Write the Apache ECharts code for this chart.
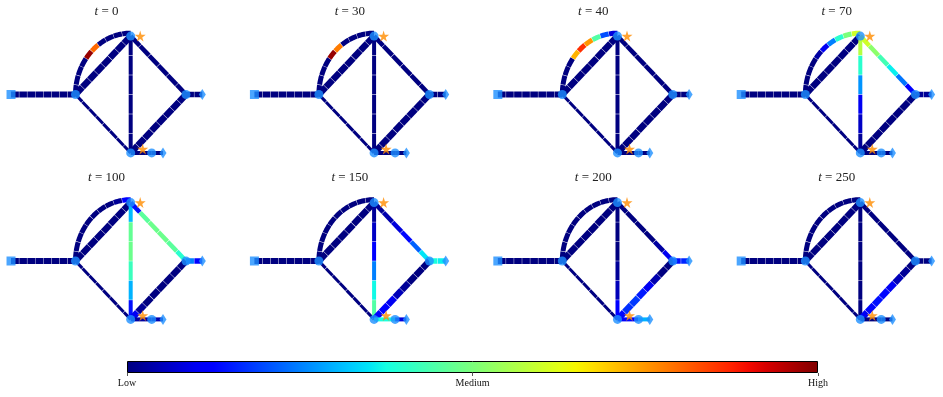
<!DOCTYPE html>
<html><head><meta charset="utf-8">
<script src="https://cdn.jsdelivr.net/npm/echarts@6/dist/echarts.min.js"></script>
<style>html,body{margin:0;padding:0;background:#fff}#c{width:943px;height:397px}</style>
</head><body><div id="c"></div><script>
// ---------------- data ----------------
const panelTimes = [0, 30, 40, 70, 100, 150, 200, 250];
const colorbarLabels = ['Low', 'Medium', 'High'];

// network layout (abstract units): source S, junctions A B C D, outlets
const nodeNames = ['S', 'A', 'B', 'C', 'D', 'Co', 'Dc', 'Dd'];
const nodeX = [-1.166, 0, 0.998, 1.998, 0.998, 2.293, 1.378, 1.582];
const nodeY = [0, 0, 1, 0, -1, 0, -1, -1];
const starNodesX = [1.17, 1.215];
const starNodesY = [1.0, -0.933];

// segment values (0 = Low, 1 = High), one row per panel
const sourceValues = [
  [0,0,0,0,0,0,0,0],[0,0,0,0,0,0,0,0],[0,0,0,0,0,0,0,0],[0,0,0,0,0,0,0,0],
  [0,0,0,0,0,0,0,0],[0,0,0,0,0,0,0,0],[0,0,0,0,0,0,0,0],[0,0,0,0,0,0,0,0]];
const arcValues = [
  [0,0,0,0,0.98,0.8,0,0,0,0],
  [0,0,0,0,0.98,0.78,0,0,0,0],
  [0,0,0,0,0.72,0.86,0.75,0.45,0.2,0.08],
  [0,0,0,0,0.03,0.1,0.25,0.4,0.5,0.6],
  [0,0,0,0,0,0,0,0,0.02,0.12],
  [0,0,0,0,0,0,0,0,0,0],
  [0,0,0,0,0,0,0,0,0,0],
  [0,0,0,0,0,0,0,0,0,0]];
const chordValues = [
  [0,0,0,0,0,0,0,0],[0,0,0,0,0,0,0,0],[0,0,0,0,0,0,0,0],[0,0,0,0,0,0,0,0],
  [0,0,0,0,0,0,0,0],[0,0,0,0,0,0,0,0],[0,0,0,0,0,0,0,0],[0,0,0,0,0,0,0,0]];
const lowerLeftValues = [
  [0,0,0,0,0,0,0,0],[0,0,0,0,0,0,0,0],[0,0,0,0,0,0,0,0],[0,0,0,0,0,0,0,0],
  [0,0,0,0,0,0,0,0],[0,0,0,0,0,0,0,0],[0,0,0,0,0,0,0,0],[0,0,0,0,0,0,0,0]];
const verticalValues = [
  [0,0,0,0,0,0],
  [0,0,0,0,0,0],
  [0,0,0,0,0,0],
  [0.57,0.4,0.27,0.1,0.06,0.02],
  [0.31,0.47,0.48,0.42,0.3,0.14],
  [0.02,0.06,0.12,0.25,0.37,0.45],
  [0,0,0,0.02,0.05,0.11],
  [0,0,0,0,0,0]];
const upperRightValues = [
  [0,0,0,0,0,0],
  [0,0,0,0,0,0],
  [0,0,0,0,0,0],
  [0.6,0.52,0.43,0.36,0.24,0.12],
  [0.14,0.46,0.48,0.48,0.46,0.4],
  [0.02,0.04,0.08,0.13,0.22,0.35],
  [0,0,0,0,0.03,0.1],
  [0,0,0,0,0,0]];
const lowerRightValues = [
  [0,0,0,0,0,0,0,0],
  [0,0,0,0,0,0,0,0],
  [0,0,0,0,0,0,0,0],
  [0,0,0,0,0,0,0,0],
  [0.1,0.02,0,0,0,0,0,0],
  [0.12,0.12,0.1,0.05,0.02,0,0,0],
  [0.13,0.17,0.18,0.15,0.1,0.04,0,0],
  [0.1,0.13,0.14,0.13,0.1,0.05,0.02,0]];
const outletCValues = [[0,0],[0,0],[0,0],[0.02,0.02],[0.25,0.12],[0.38,0.36],[0.14,0.16],[0,0]];
const outletD1Values = [[0],[0],[0],[0],[0.03],[0.38],[0.12],[0]];
const outletD2Values = [[0],[0],[0],[0],[0.04],[0.08],[0.3],[0]];

// ---------------- styles / topology ----------------
const edges = [
  { from: 'A', to: 'D', values: lowerLeftValues, width: 3 },
  { from: 'S', to: 'A', values: sourceValues, width: 6 },
  { from: 'A', to: 'B', values: arcValues, width: 5, arc: true },
  { from: 'A', to: 'B', values: chordValues, width: 6.5 },
  { from: 'B', to: 'D', values: verticalValues, width: 4 },
  { from: 'B', to: 'C', values: upperRightValues, width: 4.5 },
  { from: 'D', to: 'C', values: lowerRightValues, width: 6.5 },
  { from: 'C', to: 'Co', values: outletCValues, width: 5.5 },
  { from: 'D', to: 'Dc', values: outletD1Values, width: 4 },
  { from: 'Dc', to: 'Dd', values: outletD2Values, width: 4 }
];
const nodeStyle = {
  S: { symbol: 'rect', size: 9 },
  A: { symbol: 'circle', size: 9 }, B: { symbol: 'circle', size: 9 },
  C: { symbol: 'circle', size: 9 }, D: { symbol: 'circle', size: 9 },
  Co: { symbol: 'diamond', size: [7, 11] },
  Dc: { symbol: 'circle', size: 9 },
  Dd: { symbol: 'diamond', size: [7, 11] }
};
const NODE_COLOR = '#1e90ff', STAR_COLOR = '#ff8c00';
const STAR = 'path://M50,0 L61,35 L98,35 L68,57 L79,91 L50,70 L21,91 L32,57 L2,35 L39,35 Z';
const UX = 55.3, UY = 58.4;          // px per layout unit
const PANEL_DX = 243.4, PANEL_DY = 166.5;
const X_MIN = -1.3, X_MAX = 2.5, Y_MIN = -1.25, Y_MAX = 1.25;
const A_PX = 75.5, A_PY = 94.5;
const GAP = 0.2;  // px gap between segments

function interp(v, pts) {
  for (let i = 0; i < pts.length - 1; i++) {
    if (v <= pts[i + 1][0]) {
      const t = (v - pts[i][0]) / (pts[i + 1][0] - pts[i][0]);
      return pts[i][1] + t * (pts[i + 1][1] - pts[i][1]);
    }
  }
  return pts[pts.length - 1][1];
}
function jet(v) {
  v = Math.max(0, Math.min(1, v));
  const r = interp(v, [[0,0],[0.35,0],[0.66,1],[0.89,1],[1,0.5]]);
  const g = interp(v, [[0,0],[0.125,0],[0.375,1],[0.64,1],[0.91,0],[1,0]]);
  const b = interp(v, [[0,0.5],[0.11,1],[0.34,1],[0.65,0],[1,0]]);
  return 'rgb(' + Math.round(r * 255) + ',' + Math.round(g * 255) + ',' + Math.round(b * 255) + ')';
}
const pos = {};
nodeNames.forEach((n, i) => { pos[n] = [nodeX[i], nodeY[i]]; });

function edgeSegments(e, vals) {
  const a = pos[e.from], b = pos[e.to];
  const n = vals.length, out = [];
  if (e.arc) {
    const rx = b[0] - a[0], ry = 1.05 * (b[1] - a[1]);
    const lenPx = Math.PI / 2 * (rx * UX + ry * UY) / 2;
    const g = GAP / lenPx;
    for (let k = 0; k < n; k++) {
      const t0 = k / n + (k > 0 ? g : 0), t1 = (k + 1) / n - (k < n - 1 ? g : 0);
      const coords = [];
      for (let s = 0; s <= 6; s++) {
        const th = (t0 + (t1 - t0) * s / 6) * Math.PI / 2;
        coords.push([b[0] - rx * Math.cos(th), a[1] + ry * Math.sin(th)]);
      }
      out.push({ coords, lineStyle: { color: jet(vals[k]), width: e.width } });
    }
  } else {
    const dx = b[0] - a[0], dy = b[1] - a[1];
    const lenPx = Math.hypot(dx * UX, dy * UY);
    const g = GAP / lenPx;
    for (let k = 0; k < n; k++) {
      const t0 = k / n + (k > 0 ? g : 0), t1 = (k + 1) / n - (k < n - 1 ? g : 0);
      out.push({ coords: [[a[0] + dx * t0, a[1] + dy * t0], [a[0] + dx * t1, a[1] + dy * t1]],
                 lineStyle: { color: jet(vals[k]), width: e.width } });
    }
  }
  return out;
}

const grid = [], xAxis = [], yAxis = [], series = [], title = [];
panelTimes.forEach((tm, p) => {
  const col = p % 4, row = Math.floor(p / 4);
  const ox = col * PANEL_DX, oy = row * PANEL_DY;
  grid.push({ left: ox + A_PX + X_MIN * UX, top: oy + A_PY - Y_MAX * UY,
              width: (X_MAX - X_MIN) * UX, height: (Y_MAX - Y_MIN) * UY });
  xAxis.push({ type: 'value', gridIndex: p, min: X_MIN, max: X_MAX, show: false });
  yAxis.push({ type: 'value', gridIndex: p, min: Y_MIN, max: Y_MAX, show: false });
  title.push({
    text: '{i|t} = ' + tm, left: ox + 106.5, top: oy + 5, textAlign: 'center', padding: 0,
    textStyle: { fontFamily: 'Liberation Serif', fontSize: 13, fontWeight: 'normal', color: '#222',
      rich: { i: { fontFamily: 'Liberation Serif', fontStyle: 'italic', fontSize: 13, color: '#222' } } }
  });
  let lineData = [];
  edges.forEach(e => { lineData = lineData.concat(edgeSegments(e, e.values[p])); });
  series.push({ type: 'lines', coordinateSystem: 'cartesian2d', xAxisIndex: p, yAxisIndex: p,
    polyline: true, silent: true, z: 2, lineStyle: { cap: 'butt', join: 'round', opacity: 1 }, data: lineData });
  series.push({ type: 'scatter', xAxisIndex: p, yAxisIndex: p, silent: true, z: 3,
    data: nodeNames.map((n, i) => ({ value: [nodeX[i], nodeY[i]], symbol: nodeStyle[n].symbol,
      symbolSize: nodeStyle[n].size, itemStyle: { color: NODE_COLOR } })) });
  series.push({ type: 'scatter', xAxisIndex: p, yAxisIndex: p, silent: true, z: 4,
    symbol: STAR, symbolSize: 11, itemStyle: { color: STAR_COLOR },
    data: starNodesX.map((x, i) => [x, starNodesY[i]]) });
});

// colorbar
const stops = [];
for (let i = 0; i <= 40; i++) stops.push({ offset: i / 40, color: jet(i / 40) });
grid.push({ left: 127, top: 361, width: 691, height: 12 });
xAxis.push({ type: 'value', gridIndex: 8, min: 0, max: 1, interval: 0.5,
  axisLine: { show: false }, splitLine: { show: false },
  axisTick: { show: true, length: 3, lineStyle: { color: '#555' } },
  axisLabel: { margin: 5, fontFamily: 'Liberation Serif', fontSize: 10, color: '#111',
    formatter: v => colorbarLabels[Math.round(v * 2)] } });
yAxis.push({ type: 'category', gridIndex: 8, data: ['scale'], show: false });
series.push({ type: 'bar', xAxisIndex: 8, yAxisIndex: 8, barWidth: '100%', silent: true,
  data: [1], itemStyle: { color: new echarts.graphic.LinearGradient(0, 0, 1, 0, stops),
    borderColor: '#000', borderWidth: 1 } });

const chart = echarts.init(document.getElementById('c'), null, { renderer: 'canvas' });
chart.setOption({ animation: false, backgroundColor: '#fff', title, grid, xAxis, yAxis, series });
</script></body></html>
